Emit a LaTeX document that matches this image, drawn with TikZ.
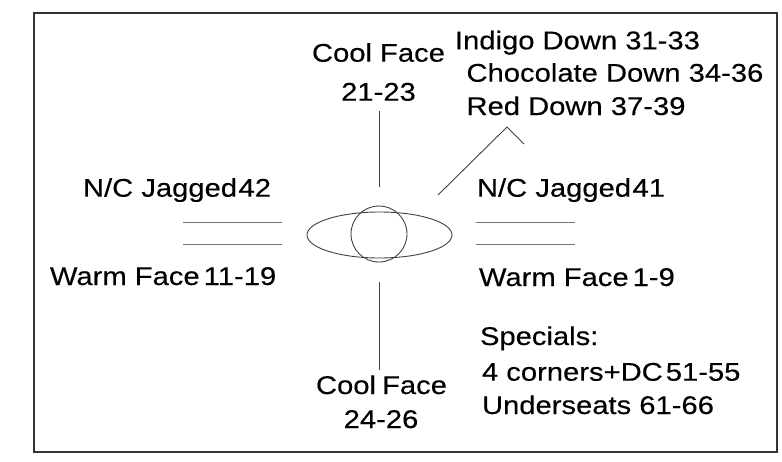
\documentclass[tikz,border=0pt]{standalone}
\usepackage{fontspec}
\usetikzlibrary{shapes.geometric}
\setmainfont{Liberation Sans}[FakeStretch=1.14,FakeBold=0.3]
\begin{document}
\begin{tikzpicture}[x=1pt,y=-1pt,
  lbl/.style={inner sep=0pt,outer sep=0pt,font=\fontsize{25.6}{30}\selectfont},
  lblw/.style={lbl,anchor=base west},
  lblc/.style={lbl,anchor=base},
  wire/.style={draw=black!75,line width=0.9pt},
  rule/.style={draw=black!55,line width=1.2pt},
  frame/.style={draw=black!80,line width=1.3pt}]
\useasboundingbox (0,0) rectangle (782,461);
\draw[frame] (34,13) rectangle (777,452);
% seat shape
\node[wire,ellipse,minimum width=145pt,minimum height=46pt,inner sep=0pt] (seat) at (379.5,235) {};
\node[wire,circle,minimum size=56pt,inner sep=0pt] (top) at (379,234) {};
% labels
\node[lblc] (cft1) at (378.5,61.7) {Cool Face};
\node[lblc] (cft2) at (378.5,100.7) {21-23};
\node[lblc] (cfb1) at (381.5,394) {Cool\kern-2pt\ Face};
\node[lblc] (cfb2) at (381,428) {24-26};
\node[lblw] (ind) at (455,49.3) {Indigo Down 31-33};
\node[lblw] (cho) at (466.5,81.7) {Chocolate Down 34-36};
\node[lblw] (red) at (466.5,115) {Red Down 37-39};
\node[lblw] (nc42) at (83,196.7) {N/C Jagged\kern1.5pt42};
\node[lblw] (wf11) at (50,285) {Warm Face\kern4pt11-19};
\node[lblw] (nc41) at (477,196.7) {N/C Jagged\kern1.5pt41};
\node[lblw] (wf1) at (479,286) {Warm Face\kern4pt1-9};
\node[lblw] (spec) at (480,345) {Specials:};
\node[lblw] (corn) at (482,380.7) {4 corners+DC\kern3pt51-55};
\node[lblw] (unds) at (482,414) {Underseats 61-66};
% connector end points
\coordinate (vt1) at (379,111);
\coordinate (vt2) at (379,187);
\coordinate (vb1) at (379,282);
\coordinate (vb2) at (379,370);
\coordinate (dg1) at (438,195);
\coordinate (dg2) at (507,127);
\coordinate (dg3) at (524,144);
\coordinate (ll1a) at (183,222.7);
\coordinate (ll1b) at (282,222.7);
\coordinate (ll2a) at (183,244.5);
\coordinate (ll2b) at (282,244.5);
\coordinate (rl1a) at (476,222.7);
\coordinate (rl1b) at (575,222.7);
\coordinate (rl2a) at (476,244.5);
\coordinate (rl2b) at (575,244.5);
% connectors
\draw[wire] (vt1) -- (vt2);
\draw[wire] (vb1) -- (vb2);
\draw[wire] (dg1) -- (dg2) -- (dg3);
\draw[rule] (ll1a) -- (ll1b);
\draw[rule] (ll2a) -- (ll2b);
\draw[rule] (rl1a) -- (rl1b);
\draw[rule] (rl2a) -- (rl2b);
\end{tikzpicture}
\end{document}
